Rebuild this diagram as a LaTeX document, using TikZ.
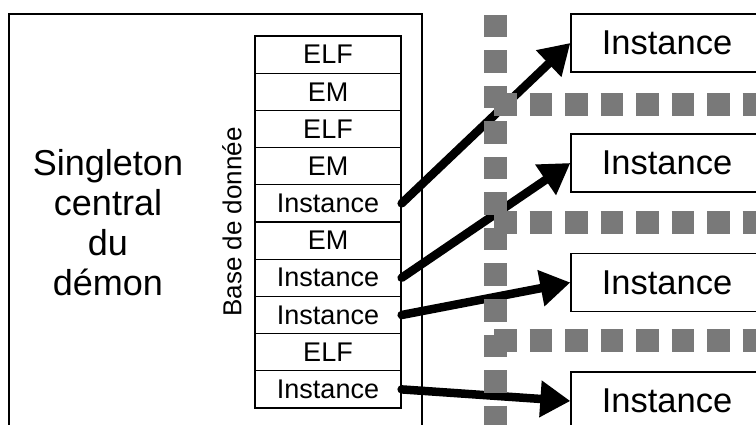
\documentclass[tikz,border=0pt]{standalone}
\usepackage{fontspec}
\setmainfont{Liberation Sans}
\usetikzlibrary{arrows.meta}
\begin{document}
\begin{tikzpicture}[x=1pt,y=-1pt,
  dbrow/.style={draw,line width=1.3pt,minimum width=146pt,minimum height=37.2pt,
    inner sep=0pt,font=\fontsize{27}{30}\selectfont},
  instbox/.style={draw,line width=1.3pt,minimum width=192pt,minimum height=58pt,
    inner sep=0pt,font=\fontsize{34.5}{40}\selectfont},
  link/.style={line width=8.5pt,line cap=round,-{Triangle[length=30pt,width=35pt]}},
  fence/.style={draw=gray!95!black,line width=23pt,dash pattern=on 22.5pt off 13pt}]
\useasboundingbox (0,0) rectangle (756,425);
\clip (0,0) rectangle (756,425);

% daemon frame
\draw[line width=1.3pt] (9,14) rectangle (422,440);
\node[align=center,font=\fontsize{36}{40}\selectfont] (single) at (108,223)
  {Singleton\\central\\du\\démon};
\node[rotate=90,font=\fontsize{26}{30}\selectfont] (dblabel) at (232,222) {Base de donnée};

% database rows
\foreach \i/\t in {1/ELF,2/EM,3/ELF,4/EM,5/Instance,6/EM,7/Instance,8/Instance,9/ELF,10/Instance}
  \node[dbrow] (r\i) at (328,{36+37.2*(\i-0.5)}) {\t};

% external instances
\node[instbox] (i1) at (667,43) {Instance};
\node[instbox] (i2) at (667,163) {Instance};
\node[instbox] (i3) at (667,282.5) {Instance};
\node[instbox] (i4) at (667,401) {Instance};

% links from the rows to the instances
\draw[link] (r5.east) -- (i1.west);
\draw[link] (r7.east) -- (i2.west);
\draw[link] (r8.east) -- (i3.west);
\draw[link] (r10.east) -- (i4.west);

% process boundaries
\coordinate (vtop) at (495.5,15);
\coordinate (vbot) at (495.5,445);
\draw[fence] (vtop) -- (vbot);
\foreach \y/\n in {104.5/a,222.5/b,340.5/c} {
  \coordinate (h\n l) at (494,\y);
  \coordinate (h\n r) at (790,\y);
  \draw[fence] (h\n l) -- (h\n r);
}
\end{tikzpicture}
\end{document}
